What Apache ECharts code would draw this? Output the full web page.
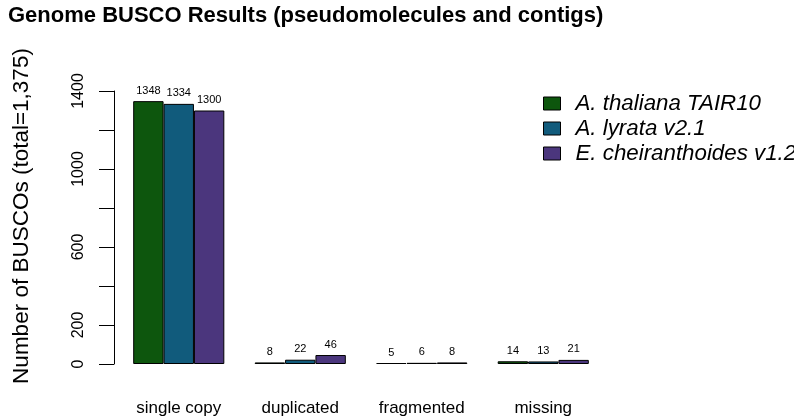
<!DOCTYPE html>
<html>
<head>
<meta charset="utf-8">
<script src="https://cdn.jsdelivr.net/npm/echarts@6/dist/echarts.min.js"></script>
<style>
  html, body { margin: 0; padding: 0; background: #fff; }
  #chart { width: 794px; height: 418px; }
</style>
</head>
<body>
<div id="chart"></div>
<script>
// categories and values
const categories = ['single copy', 'duplicated', 'fragmented', 'missing'];
const seriesNames = ['A. thaliana TAIR10', 'A. lyrata v2.1', 'E. cheiranthoides v1.2'];
const thaliana = [1348, 8, 5, 14];
const lyrata = [1334, 22, 6, 13];
const cheiranthoides = [1300, 46, 8, 21];
const yTicksShown = [0, 200, 600, 1000, 1400]; // R drops overlapping labels

const colors = ['#0d560d', '#115b7c', '#4b367d'];
const allValues = [thaliana, lyrata, cheiranthoides];
const font = 'Liberation Sans, Arial, sans-serif';

const chart = echarts.init(document.getElementById('chart'));

const series = seriesNames.map((name, i) => ({
    name: name,
    type: 'bar',
    data: allValues[i],
    barGap: '0%',
    barCategoryGap: '25%',
    itemStyle: { color: colors[i], borderColor: '#000', borderWidth: 1 },
    label: {
        show: true,
        position: 'top',
        distance: 5,
        color: '#000',
        fontSize: 11,
        fontFamily: font
    }
}));

const option = {
    animation: false,
    backgroundColor: '#fff',
    title: {
        text: 'Genome BUSCO Results (pseudomolecules and contigs)',
        left: 3,
        top: 0,
        textStyle: {
            fontSize: 22,
            fontWeight: 'bold',
            color: '#000',
            fontFamily: font
        }
    },
    legend: {
        data: seriesNames,
        orient: 'vertical',
        left: 538,
        top: 86,
        itemWidth: 17,
        itemHeight: 13,
        itemGap: 0,
        icon: 'rect',
        itemStyle: { borderColor: '#000', borderWidth: 1 },
        textStyle: {
            fontSize: 22.3,
            lineHeight: 25,
            fontStyle: 'italic',
            color: '#000',
            fontFamily: font,
            padding: [0, 0, 0, 10]
        }
    },
    grid: { left: 118, right: 190, top: 91, bottom: 54 },
    xAxis: {
        type: 'category',
        data: categories,
        axisLine: { show: false },
        axisTick: { show: false },
        axisLabel: {
            margin: 36,
            fontSize: 17,
            color: '#000',
            fontFamily: font
        }
    },
    yAxis: {
        type: 'value',
        min: 0,
        max: 1400,
        interval: 200,
        offset: 4,
        name: 'Number of BUSCOs (total=1,375)',
        nameLocation: 'middle',
        nameGap: 81,
        nameTextStyle: {
            fontSize: 22.5,
            color: '#000',
            fontFamily: font,
            padding: [0, 0, 0, 23]
        },
        splitLine: { show: false },
        axisLine: { show: true, lineStyle: { color: '#000', width: 1 } },
        axisTick: { show: true, inside: false, length: 15, lineStyle: { color: '#000' } },
        axisLabel: {
            rotate: 90,
            margin: 27,
            fontSize: 16,
            color: '#000',
            fontFamily: font,
            formatter: function (v) {
                return yTicksShown.includes(v) ? String(v) : '';
            }
        }
    },
    series: series
};

chart.setOption(option);
</script>
</body>
</html>
